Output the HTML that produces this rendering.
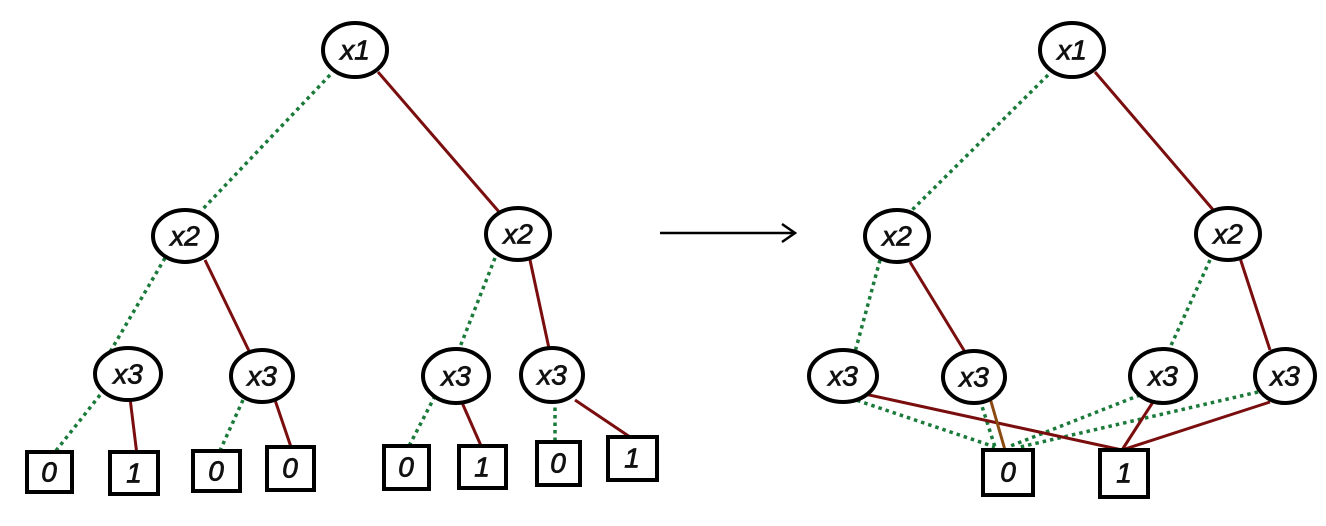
<!DOCTYPE html>
<html><head><style>
html,body{margin:0;padding:0;background:#fff;}
svg{display:block;}
text{font-family:"Liberation Sans",sans-serif;font-size:28px;font-style:italic;fill:#111;stroke:#111;stroke-width:0.8;text-anchor:middle;dominant-baseline:central;}
.g{stroke:#1a7a3a;stroke-width:3.5;stroke-dasharray:3.5 4;fill:none;}
.r{stroke:#7a0e0e;stroke-width:3;fill:none;}
.n{fill:#fff;stroke:#000;stroke-width:4;}
</style></head><body>
<svg width="1326" height="526" viewBox="0 0 1326 526">
<line class="g" x1="330" y1="75" x2="200" y2="212"/>
<line class="r" x1="378" y1="72" x2="500" y2="213"/>
<line class="g" x1="165" y1="258" x2="110" y2="352"/>
<line class="r" x1="205" y1="260" x2="250" y2="353"/>
<line class="g" x1="495" y1="258" x2="458" y2="352"/>
<line class="r" x1="530" y1="260" x2="550" y2="353"/>
<line class="g" x1="100" y1="395" x2="55" y2="452"/>
<line class="r" x1="130" y1="398" x2="137" y2="455"/>
<line class="g" x1="243" y1="400" x2="218" y2="455"/>
<line class="r" x1="275" y1="400" x2="292" y2="450"/>
<line class="g" x1="435" y1="396" x2="408" y2="448"/>
<line class="r" x1="460" y1="398" x2="482" y2="448"/>
<line class="g" x1="555" y1="400" x2="555" y2="445"/>
<line class="r" x1="575" y1="400" x2="630" y2="437"/>
<line class="g" x1="1048" y1="75" x2="910" y2="212"/>
<line class="r" x1="1095" y1="72" x2="1215" y2="212"/>
<line class="g" x1="880" y1="260" x2="855" y2="352"/>
<line class="r" x1="910" y1="262" x2="965" y2="352"/>
<line class="g" x1="1210" y1="260" x2="1168" y2="352"/>
<line class="r" x1="1240" y1="258" x2="1270" y2="350"/>
<line class="g" x1="850" y1="398" x2="995" y2="447"/>
<line class="g" x1="980" y1="400" x2="995" y2="447"/>
<line class="g" x1="1140" y1="395" x2="1008" y2="447"/>
<line class="g" x1="1258" y1="392" x2="1020" y2="447"/>
<line class="r" x1="860" y1="393" x2="1122" y2="450"/>
<line x1="990" y1="398" x2="1005" y2="450" stroke="#8a4a10" stroke-width="3"/>
<line class="r" x1="1153" y1="402" x2="1122" y2="450"/>
<line class="r" x1="1270" y1="402" x2="1122" y2="450"/>
<line x1="660" y1="233" x2="793" y2="233" stroke="#000" stroke-width="2.5"/>
<polyline points="782,224 795,233 782,242" fill="none" stroke="#000" stroke-width="2.5"/>
<ellipse class="n" cx="355" cy="50" rx="32" ry="27"/><text x="355" y="50">x1</text>
<ellipse class="n" cx="185" cy="236" rx="32" ry="26"/><text x="185" y="236">x2</text>
<ellipse class="n" cx="518" cy="234" rx="32" ry="26"/><text x="518" y="234">x2</text>
<ellipse class="n" cx="128" cy="374" rx="33" ry="26"/><text x="128" y="374">x3</text>
<ellipse class="n" cx="262" cy="376" rx="31" ry="26"/><text x="262" y="376">x3</text>
<ellipse class="n" cx="456" cy="376" rx="33" ry="27"/><text x="456" y="376">x3</text>
<ellipse class="n" cx="552" cy="375" rx="31" ry="27"/><text x="552" y="375">x3</text>
<rect class="n" x="27" y="452" width="45" height="40"/><text x="49" y="472">0</text>
<rect class="n" x="110" y="452" width="48" height="42"/><text x="134" y="473">1</text>
<rect class="n" x="193" y="451" width="47" height="40"/><text x="216" y="471">0</text>
<rect class="n" x="267" y="447" width="47" height="43"/><text x="290" y="468">0</text>
<rect class="n" x="384" y="446" width="45" height="43"/><text x="406" y="467">0</text>
<rect class="n" x="459" y="446" width="47" height="42"/><text x="482" y="467">1</text>
<rect class="n" x="537" y="442" width="43" height="43"/><text x="558" y="463">0</text>
<rect class="n" x="608" y="437" width="49" height="43"/><text x="632" y="458">1</text>
<ellipse class="n" cx="1072" cy="50" rx="32" ry="27"/><text x="1072" y="50">x1</text>
<ellipse class="n" cx="897" cy="236" rx="32" ry="26"/><text x="897" y="236">x2</text>
<ellipse class="n" cx="1228" cy="234" rx="32" ry="26"/><text x="1228" y="234">x2</text>
<ellipse class="n" cx="843" cy="376" rx="34" ry="26"/><text x="843" y="376">x3</text>
<ellipse class="n" cx="974" cy="377" rx="31" ry="26"/><text x="974" y="377">x3</text>
<ellipse class="n" cx="1163" cy="376" rx="33" ry="27"/><text x="1163" y="376">x3</text>
<ellipse class="n" cx="1285" cy="376" rx="30" ry="27"/><text x="1285" y="376">x3</text>
<rect class="n" x="983" y="450" width="50" height="45"/><text x="1008" y="472">0</text>
<rect class="n" x="1100" y="450" width="48" height="47"/><text x="1124" y="473">1</text>
</svg>
</body></html>
